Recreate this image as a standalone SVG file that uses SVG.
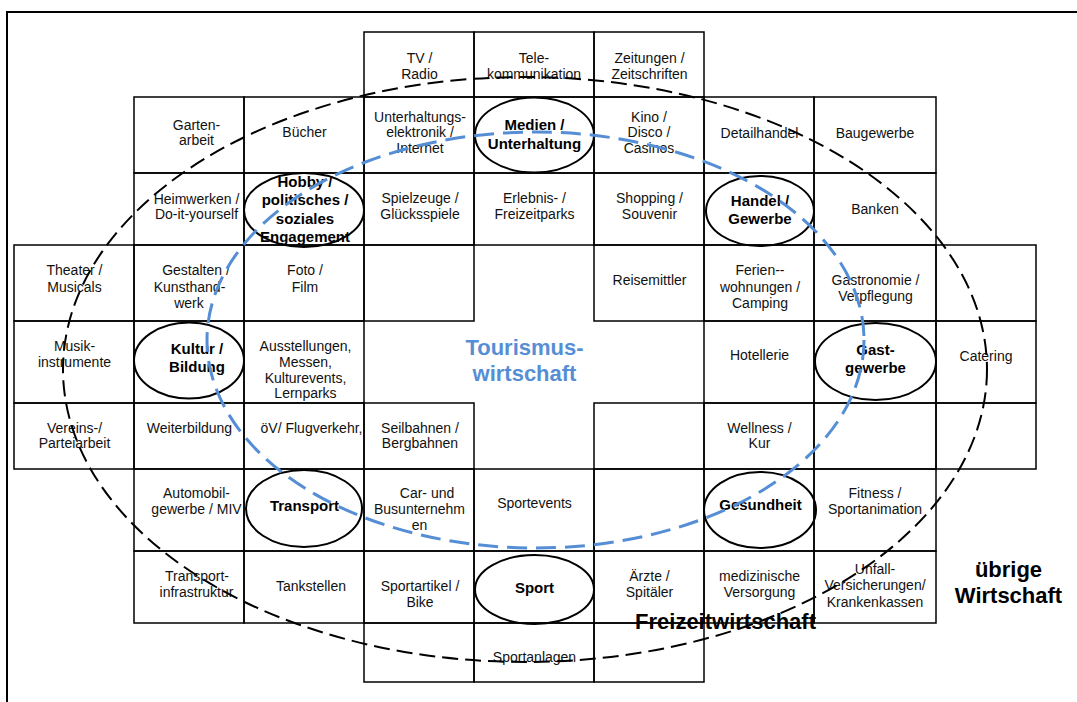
<svg xmlns="http://www.w3.org/2000/svg" width="1077" height="702" viewBox="0 0 1077 702">
<style>
.frame{fill:none;stroke:#000;stroke-width:2}
.cell{fill:none;stroke:#000;stroke-width:1.5}
.hub{fill:none;stroke:#000;stroke-width:2}
.t{font-family:"Liberation Sans",Arial,sans-serif;font-size:14px;fill:#111;text-anchor:middle}
.b{font-family:"Liberation Sans",Arial,sans-serif;font-size:15px;font-weight:bold;fill:#000;text-anchor:middle}
.big{font-family:"Liberation Sans",Arial,sans-serif;font-size:22px;font-weight:bold;fill:#000;text-anchor:middle}
.blue{fill:#558ED5}
.fz{fill:none;stroke:#000;stroke-width:2;stroke-dasharray:16 7}
.tw{fill:none;stroke:#558ED5;stroke-width:3;stroke-dasharray:20 9}
</style>
<rect width="1077" height="702" fill="#fff"/>
<rect class="frame" x="7" y="12" width="1080" height="700"/>

<!-- Row 0 -->
<g id="tv-radio"><rect class="cell" x="364" y="32" width="110" height="65"/><text class="t"><tspan x="419.5" y="62.5">TV /</tspan><tspan x="419.5" y="78.5">Radio</tspan></text></g>
<g id="telekommunikation"><rect class="cell" x="474" y="32" width="120" height="65"/><text class="t"><tspan x="534" y="62.5">Tele-</tspan><tspan x="534" y="78.5">kommunikation</tspan></text></g>
<g id="zeitungen"><rect class="cell" x="594" y="32" width="110" height="65"/><text class="t"><tspan x="649.5" y="62.5">Zeitungen /</tspan><tspan x="649.5" y="78.5">Zeitschriften</tspan></text></g>

<!-- Row 1 -->
<g id="gartenarbeit"><rect class="cell" x="134" y="97" width="110" height="76"/><text class="t"><tspan x="196.5" y="129.5">Garten-</tspan><tspan x="196.5" y="145">arbeit</tspan></text></g>
<g id="buecher"><rect class="cell" x="244" y="97" width="120" height="76"/><text class="t" x="304.5" y="137">Bücher</text></g>
<g id="unterhaltungselektronik"><rect class="cell" x="364" y="97" width="110" height="76"/><text class="t"><tspan x="420" y="121.5">Unterhaltungs-</tspan><tspan x="420" y="137">elektronik /</tspan><tspan x="420" y="153">Internet</tspan></text></g>
<g id="cell-medien"><rect class="cell" x="474" y="97" width="120" height="76"/></g>
<g id="kino"><rect class="cell" x="594" y="97" width="110" height="76"/><text class="t"><tspan x="649" y="121.5">Kino /</tspan><tspan x="649" y="137">Disco /</tspan><tspan x="649" y="153">Casinos</tspan></text></g>
<g id="detailhandel"><rect class="cell" x="704" y="97" width="110" height="76"/><text class="t" x="759.5" y="137.5">Detailhandel</text></g>
<g id="baugewerbe"><rect class="cell" x="814" y="97" width="122" height="76"/><text class="t" x="875" y="137.5">Baugewerbe</text></g>

<!-- Row 2 -->
<g id="heimwerken"><rect class="cell" x="134" y="173" width="110" height="72"/><text class="t"><tspan x="196.5" y="203.5">Heimwerken /</tspan><tspan x="196.5" y="219">Do-it-yourself</tspan></text></g>
<g id="cell-hobby"><rect class="cell" x="244" y="173" width="120" height="72"/></g>
<g id="spielzeuge"><rect class="cell" x="364" y="173" width="110" height="72"/><text class="t"><tspan x="420" y="203">Spielzeuge /</tspan><tspan x="420" y="218.5">Glücksspiele</tspan></text></g>
<g id="erlebnisparks"><rect class="cell" x="474" y="173" width="120" height="72"/><text class="t"><tspan x="534.5" y="203">Erlebnis- /</tspan><tspan x="534.5" y="218.5">Freizeitparks</tspan></text></g>
<g id="shopping"><rect class="cell" x="594" y="173" width="110" height="72"/><text class="t"><tspan x="649.5" y="203">Shopping /</tspan><tspan x="649.5" y="218.5">Souvenir</tspan></text></g>
<g id="cell-handel"><rect class="cell" x="704" y="173" width="110" height="72"/></g>
<g id="banken"><rect class="cell" x="814" y="173" width="122" height="72"/><text class="t" x="875" y="213.5">Banken</text></g>

<!-- Row 3 -->
<g id="theater"><rect class="cell" x="14" y="245" width="120" height="76"/><text class="t"><tspan x="74.5" y="275">Theater /</tspan><tspan x="74.5" y="291.5">Musicals</tspan></text></g>
<g id="gestalten"><rect class="cell" x="134" y="245" width="110" height="76"/><text class="t"><tspan x="196" y="275">Gestalten /</tspan><tspan x="189.5" y="291.5">Kunsthand-</tspan><tspan x="189" y="307.5">werk</tspan></text></g>
<g id="foto-film"><rect class="cell" x="244" y="245" width="120" height="76"/><text class="t"><tspan x="305" y="275">Foto /</tspan><tspan x="305" y="291.5">Film</tspan></text></g>
<g id="empty-r3c3"><rect class="cell" x="364" y="245" width="110" height="76"/></g>
<g id="reisemittler"><rect class="cell" x="594" y="245" width="110" height="76"/><text class="t" x="649.5" y="285">Reisemittler</text></g>
<g id="ferienwohnungen"><rect class="cell" x="704" y="245" width="110" height="76"/><text class="t"><tspan x="760" y="275">Ferien--</tspan><tspan x="760" y="291.5">wohnungen /</tspan><tspan x="760" y="307.5">Camping</tspan></text></g>
<g id="gastronomie"><rect class="cell" x="814" y="245" width="122" height="76"/><text class="t"><tspan x="875.5" y="285">Gastronomie /</tspan><tspan x="875.5" y="301">Verpflegung</tspan></text></g>
<g id="empty-r3c8"><rect class="cell" x="936" y="245" width="100" height="76"/></g>

<!-- Row 4 -->
<g id="musikinstrumente"><rect class="cell" x="14" y="321" width="120" height="82"/><text class="t"><tspan x="74.5" y="351">Musik-</tspan><tspan x="74.5" y="366.5">instrumente</tspan></text></g>
<g id="cell-kultur"><rect class="cell" x="134" y="321" width="110" height="82"/></g>
<g id="ausstellungen"><rect class="cell" x="244" y="321" width="120" height="82"/><text class="t"><tspan x="305.5" y="351">Ausstellungen,</tspan><tspan x="305.5" y="366.5">Messen,</tspan><tspan x="305.5" y="382.5">Kulturevents,</tspan><tspan x="305.5" y="398">Lernparks</tspan></text></g>
<g id="hotellerie"><rect class="cell" x="704" y="321" width="110" height="82"/><text class="t" x="759.5" y="360">Hotellerie</text></g>
<g id="cell-gast"><rect class="cell" x="814" y="321" width="122" height="82"/></g>
<g id="catering"><rect class="cell" x="936" y="321" width="100" height="82"/><text class="t" x="986" y="360.5">Catering</text></g>

<!-- Row 5 -->
<g id="vereinsarbeit"><rect class="cell" x="14" y="403" width="120" height="66"/><text class="t"><tspan x="74.5" y="432.5">Vereins-/</tspan><tspan x="74.5" y="448">Parteiarbeit</tspan></text></g>
<g id="weiterbildung"><rect class="cell" x="134" y="403" width="110" height="66"/><text class="t" x="189.5" y="433">Weiterbildung</text></g>
<g id="oev-flugverkehr"><rect class="cell" x="244" y="403" width="120" height="66"/><text class="t" x="311.5" y="433">öV/ Flugverkehr,</text></g>
<g id="seilbahnen"><rect class="cell" x="364" y="403" width="110" height="66"/><text class="t"><tspan x="420" y="432.5">Seilbahnen /</tspan><tspan x="420" y="448">Bergbahnen</tspan></text></g>
<g id="empty-r5c5"><rect class="cell" x="594" y="403" width="110" height="66"/></g>
<g id="wellness"><rect class="cell" x="704" y="403" width="110" height="66"/><text class="t"><tspan x="759.5" y="432.5">Wellness /</tspan><tspan x="759.5" y="448">Kur</tspan></text></g>
<g id="empty-r5c7"><rect class="cell" x="814" y="403" width="122" height="66"/></g>
<g id="empty-r5c8"><rect class="cell" x="936" y="403" width="100" height="66"/></g>

<!-- Row 6 -->
<g id="automobilgewerbe"><rect class="cell" x="134" y="469" width="110" height="82"/><text class="t"><tspan x="196.5" y="498">Automobil-</tspan><tspan x="196.5" y="514">gewerbe / MIV</tspan></text></g>
<g id="cell-transport"><rect class="cell" x="244" y="469" width="120" height="82"/></g>
<g id="busunternehmen"><rect class="cell" x="364" y="469" width="110" height="82"/><text class="t"><tspan x="427" y="498">Car- und</tspan><tspan x="419.5" y="514">Busunternehm</tspan><tspan x="419.5" y="530">en</tspan></text></g>
<g id="sportevents"><rect class="cell" x="474" y="469" width="120" height="82"/><text class="t" x="534.5" y="507.5">Sportevents</text></g>
<g id="empty-r6c5"><rect class="cell" x="594" y="469" width="110" height="82"/></g>
<g id="cell-gesundheit"><rect class="cell" x="704" y="469" width="110" height="82"/></g>
<g id="fitness"><rect class="cell" x="814" y="469" width="122" height="82"/><text class="t"><tspan x="875" y="498">Fitness /</tspan><tspan x="875" y="514">Sportanimation</tspan></text></g>

<!-- Row 7 -->
<g id="transportinfrastruktur"><rect class="cell" x="134" y="551" width="110" height="72"/><text class="t"><tspan x="197" y="581">Transport-</tspan><tspan x="196.5" y="597">infrastruktur</tspan></text></g>
<g id="tankstellen"><rect class="cell" x="244" y="551" width="120" height="72"/><text class="t" x="311" y="591">Tankstellen</text></g>
<g id="sportartikel"><rect class="cell" x="364" y="551" width="110" height="72"/><text class="t"><tspan x="420" y="591">Sportartikel /</tspan><tspan x="420" y="607">Bike</tspan></text></g>
<g id="cell-sport"><rect class="cell" x="474" y="551" width="120" height="72"/></g>
<g id="aerzte"><rect class="cell" x="594" y="551" width="110" height="72"/><text class="t"><tspan x="649.5" y="581">Ärzte /</tspan><tspan x="649.5" y="597">Spitäler</tspan></text></g>
<g id="medizinische-versorgung"><rect class="cell" x="704" y="551" width="110" height="72"/><text class="t"><tspan x="759.5" y="581">medizinische</tspan><tspan x="759.5" y="597">Versorgung</tspan></text></g>
<g id="versicherungen"><rect class="cell" x="814" y="551" width="122" height="72"/><text class="t"><tspan x="875" y="573.5">Unfall-</tspan><tspan x="875" y="590">Versicherungen/</tspan><tspan x="875" y="606.5">Krankenkassen</tspan></text></g>

<!-- Row 8 -->
<g id="empty-r8c2"><rect class="cell" x="364" y="623" width="110" height="59"/></g>
<g id="sportanlagen"><rect class="cell" x="474" y="623" width="120" height="59"/><text class="t" x="534.5" y="662">Sportanlagen</text></g>
<g id="empty-r8c5"><rect class="cell" x="594" y="623" width="110" height="59"/></g>

<!-- Hub ellipses -->
<g id="hub-medien"><ellipse class="hub" cx="534.5" cy="135" rx="59.5" ry="37.5"/><text class="b"><tspan x="534.5" y="130">Medien /</tspan><tspan x="534.5" y="148.5">Unterhaltung</tspan></text></g>
<g id="hub-hobby"><ellipse class="hub" cx="304" cy="210" rx="60" ry="37"/><text class="b"><tspan x="305" y="187">Hobby /</tspan><tspan x="305" y="205">politisches /</tspan><tspan x="305" y="223.5">soziales</tspan><tspan x="305" y="241.5">Engagement</tspan></text></g>
<g id="hub-handel"><ellipse class="hub" cx="760" cy="211" rx="54" ry="35"/><text class="b"><tspan x="760" y="205.5">Handel /</tspan><tspan x="760" y="223.5">Gewerbe</tspan></text></g>
<g id="hub-kultur"><ellipse class="hub" cx="189" cy="360.5" rx="55" ry="38"/><text class="b"><tspan x="197" y="353.5">Kultur /</tspan><tspan x="197" y="371.5">Bildung</tspan></text></g>
<g id="hub-gast"><ellipse class="hub" cx="875.5" cy="361.5" rx="60.5" ry="38.5"/><text class="b"><tspan x="875.5" y="354.5">Gast-</tspan><tspan x="875.5" y="372.5">gewerbe</tspan></text></g>
<g id="hub-transport"><ellipse class="hub" cx="304" cy="508.5" rx="58" ry="38.5"/><text class="b" x="304.5" y="510.5">Transport</text></g>
<g id="hub-gesundheit"><ellipse class="hub" cx="760" cy="510" rx="56" ry="38"/><text class="b" x="760.5" y="510">Gesundheit</text></g>
<g id="hub-sport"><ellipse class="hub" cx="534.5" cy="589.5" rx="59.5" ry="34.5"/><text class="b" x="534.5" y="593">Sport</text></g>

<!-- Region labels -->
<g id="label-tourismus"><text class="big blue"><tspan x="524.5" y="355">Tourismus-</tspan><tspan x="524.5" y="381">wirtschaft</tspan></text></g>
<g id="label-freizeit"><text class="big" x="725.5" y="629">Freizeitwirtschaft</text></g>
<g id="label-uebrige"><text class="big"><tspan x="1008.5" y="577">übrige</tspan><tspan x="1008.5" y="603">Wirtschaft</tspan></text></g>

<!-- Region boundaries -->
<g id="regions">
<ellipse class="fz" cx="525" cy="369.5" rx="462" ry="292.5"/>
<ellipse class="tw" cx="535.5" cy="340" rx="328.5" ry="208"/>
</g>
</svg>
